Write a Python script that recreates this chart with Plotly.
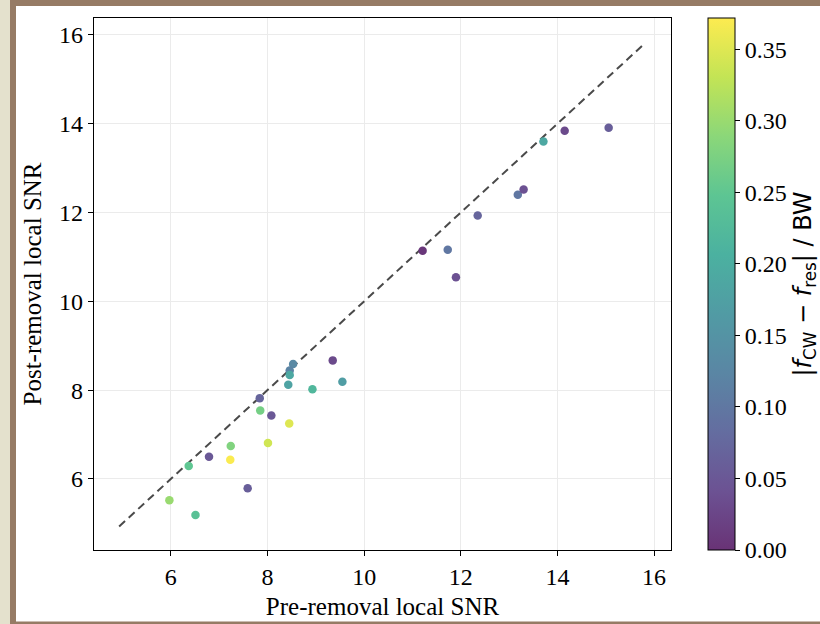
import plotly.graph_objects as go
import plotly.colors as pc

# ---- data ----
pre_snr = [11.21, 11.73, 11.90, 12.35, 13.18, 13.30, 13.71, 14.15, 15.06,
           8.53, 8.46, 8.46, 8.43, 9.35, 9.55, 8.93, 7.84, 7.85, 8.08,
           8.45, 8.01, 7.24, 7.23, 6.79, 6.37, 7.59, 5.97, 6.51]
post_snr = [11.14, 11.16, 10.54, 11.93, 12.40, 12.52, 13.60, 13.84, 13.91,
            8.59, 8.44, 8.34, 8.12, 8.67, 8.19, 8.02, 7.82, 7.54, 7.43,
            7.25, 6.81, 6.74, 6.43, 6.50, 6.29, 5.79, 5.52, 5.19]
freq_offset = [0.005, 0.10, 0.04, 0.07, 0.10, 0.04, 0.19, 0.03, 0.06,
               0.13, 0.12, 0.19, 0.18, 0.03, 0.17, 0.22, 0.07, 0.27, 0.05,
               0.35, 0.34, 0.28, 0.37, 0.05, 0.25, 0.06, 0.30, 0.24]
diag = [4.93, 15.8]
x_ticks = [6, 8, 10, 12, 14, 16]
y_ticks = [6, 8, 10, 12, 14, 16]
cbar_ticks = [0.0, 0.05, 0.10, 0.15, 0.20, 0.25, 0.30, 0.35]
c_max = 0.372

# viridis blended with white (alpha 0.8)
def blend(c, a=0.8):
    r, g, b = pc.hex_to_rgb(c)
    return "rgb(%d,%d,%d)" % (r * a + 255 * (1 - a), g * a + 255 * (1 - a), b * a + 255 * (1 - a))

vir = pc.sequential.Viridis
cscale = [[i / (len(vir) - 1), blend(c)] for i, c in enumerate(vir)]

serif = "Liberation Serif, Times New Roman, serif"

fig = go.Figure()
fig.add_trace(go.Scatter(
    x=diag, y=diag, mode="lines",
    line=dict(color="#4a4a4a", width=2, dash="8px,5px"),
    showlegend=False, hoverinfo="skip"))
fig.add_trace(go.Scatter(
    x=pre_snr, y=post_snr, mode="markers",
    marker=dict(size=8.5, color=freq_offset, colorscale=cscale, cmin=0, cmax=c_max,
                line=dict(width=0),
                colorbar=dict(
                    x=(708 - 94) / 577, xanchor="left", xpad=0,
                    y=0, yanchor="bottom", len=1, lenmode="fraction", ypad=0,
                    thickness=27, thicknessmode="pixels",
                    outlinecolor="black", outlinewidth=1,
                    ticks="outside", ticklen=5, tickcolor="black",
                    tickvals=cbar_ticks, tickformat=".2f",
                    tickfont=dict(family=serif, size=24, color="black"),
                    title=dict(text="|<i>f</i><sub>CW</sub> − <i>f</i><sub>res</sub>| / BW",
                               side="right",
                               font=dict(family="DejaVu Sans, sans-serif", size=24, color="black")),
                )),
    showlegend=False))

axis_common = dict(
    showline=True, mirror=True, linecolor="black", linewidth=1.2,
    ticks="outside", ticklen=5, tickcolor="black", tickwidth=1,
    showgrid=True, gridcolor="#ebebeb", gridwidth=1, zeroline=False,
    tickfont=dict(family=serif, size=24, color="black"),
)

fig.update_xaxes(range=[4.41, 16.35], tickvals=x_ticks,
                 title=dict(text="Pre-removal local SNR", font=dict(family=serif, size=25, color="black"), standoff=8),
                 **axis_common)
fig.update_yaxes(range=[4.40, 16.38], tickvals=y_ticks,
                 title=dict(text="Post-removal local SNR", font=dict(family=serif, size=25, color="black"), standoff=10),
                 **axis_common)

# page border (beige / brown frame around the picture)
L, W, T, H = 94, 577, 18, 532
def px(v): return (v - L) / W
def py(v): return (T + H - v) / H
shapes = [
    dict(x0=px(0), x1=px(10), y0=py(624), y1=py(0), fillcolor="#e4e1cd"),
    dict(x0=px(10), x1=px(16), y0=py(624), y1=py(0), fillcolor="#967b65"),
    dict(x0=px(10), x1=px(820), y0=py(6), y1=py(0), fillcolor="#967b65"),
    dict(x0=px(10), x1=px(820), y0=py(624), y1=py(621.5), fillcolor="#967b65"),
]
for s in shapes:
    s.update(type="rect", xref="paper", yref="paper", line=dict(width=0), layer="above")

fig.update_layout(
    width=820, height=624,
    margin=dict(l=L, r=820 - L - W, t=T, b=624 - T - H, pad=0, autoexpand=False),
    paper_bgcolor="white", plot_bgcolor="white",
    shapes=shapes,
)

fig.write_html("out.html")
